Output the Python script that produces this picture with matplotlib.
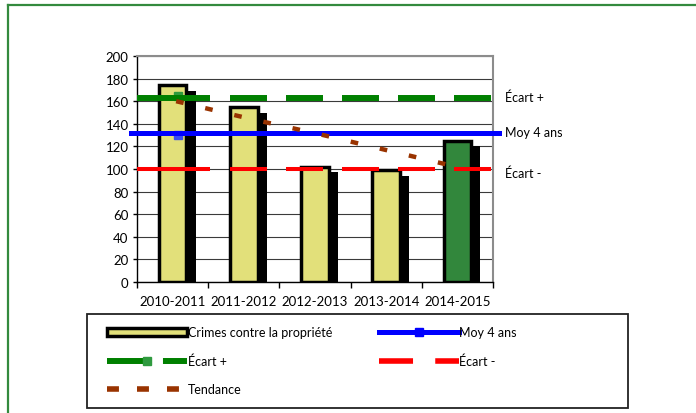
import matplotlib
matplotlib.use('Agg')
import matplotlib.pyplot as plt
from matplotlib.lines import Line2D
from matplotlib.patches import Patch, Rectangle
import numpy as np

plt.rcParams['font.family'] = ['Lato', 'DejaVu Sans']
plt.rcParams['lines.scale_dashes'] = False

# valeurs
saisons = ['2010-2011', '2011-2012', '2012-2013', '2013-2014', '2014-2015']
crimes = [174, 155, 102, 99, 125]
moy_4ans = 132
ecart_plus = 163
ecart_moins = 100
tendance = [160, 145, 131, 116, 101]

# couleurs
jaune = '#E2E07A'
vert_barre = '#32873C'
vert = '#008000'
bleu = '#0000FF'
rouge = '#FF0000'
brun = '#993300'

fig = plt.figure(figsize=(6.96, 4.14), dpi=100)
ax = fig.add_axes([137/696, 1-283/414, 356/696, 226/414])
x = np.arange(len(saisons))

# ombre des barres puis barres
couleurs = [jaune]*4 + [vert_barre]
ax.bar(x + 0.127, np.array(crimes) - 5, width=0.39, color='black', zorder=2)
ax.bar(x, crimes, width=0.39, color=couleurs, edgecolor='black', linewidth=2.5, zorder=3)

# tirets en px -> pt
seq = [v*0.72 for v in [73, 20, 37, 19, 37, 19, 37, 19, 37, 19, 37, 30]]
ax.plot([-0.5, 4.5], [ecart_plus]*2, color=vert, lw=4.3, dashes=seq, zorder=5)
ax.plot([x[0]+0.07], [ecart_plus+1.5], 's', color='#2f9a3f', ms=6, zorder=4)
ax.plot([-0.5, 4.5], [ecart_moins]*2, color=rouge, lw=2.9, dashes=seq, zorder=5)
ax.plot([-0.585, 4.585], [moy_4ans]*2, color=bleu, lw=3.6, zorder=6, clip_on=False)
ax.plot([x[0]+0.07], [moy_4ans-1.5], 's', color='#3a4ef0', ms=6, zorder=5)
ax.plot(x + 0.05, tendance, color=brun, lw=3.2, dashes=(5.5, 16), zorder=7)

# axes
ax.set_xlim(-0.5, 4.5)
ax.set_ylim(0, 200)
ax.set_yticks(range(0, 201, 20))
ax.yaxis.grid(True, color='#3a3a3a', lw=0.8)
ax.set_axisbelow(True)
ax.set_xticks(np.arange(-0.5, 5, 1))
ax.set_xticklabels([])
ax.set_xticks(x, minor=True)
ax.set_xticklabels(saisons, minor=True, fontsize=9.5)
ax.tick_params(axis='x', which='minor', length=0, pad=9)
ax.tick_params(axis='x', which='major', length=4, direction='out', width=1)
ax.tick_params(axis='y', length=3, pad=3, labelsize=9.5, width=1)
for s in ['top', 'right']:
    ax.spines[s].set_color('#8c8c8c')
    ax.spines[s].set_linewidth(1.5)
for s in ['left', 'bottom']:
    ax.spines[s].set_color('black')
    ax.spines[s].set_linewidth(1)

# libellés à droite
ax.text(4.67, ecart_plus + 1, 'Écart +', va='center', fontsize=9)
ax.text(4.67, moy_4ans + 1, 'Moy 4 ans', va='center', fontsize=9)
ax.text(4.67, ecart_moins - 3, 'Écart -', va='center', fontsize=9)

# légende
h_crimes = Patch(facecolor=jaune, edgecolor='black', linewidth=2.5)
h_moy = Line2D([], [], color=bleu, lw=3.6, marker='s', ms=6)
h_plus = Line2D([], [], color=vert, lw=4.3, dashes=(26.6, 13.7), marker='s', ms=6,
                markerfacecolor='#2f9a3f', markeredgecolor='#2f9a3f')
h_moins = Line2D([], [], color=rouge, lw=4, dashes=(24.5, 16))
h_tend = Line2D([], [], color=brun, lw=4, dashes=(8.6, 13))
handles = [h_crimes, h_plus, h_tend, h_moy, h_moins]
labels = ['Crimes contre la propriété', 'Écart +', 'Tendance', 'Moy 4 ans', 'Écart -']
fig.legend(handles, labels, loc='upper left', bbox_to_anchor=(101/696, 1-321/414),
           ncol=2, frameon=False, borderpad=0, fontsize=9, handlelength=6.4,
           handletextpad=0.05, columnspacing=3.7, labelspacing=1.3, handleheight=0.7)
fig.add_artist(Rectangle((87/696, 1-409/414), 541/696, 94/414, transform=fig.transFigure,
                         fill=False, edgecolor='#222222', lw=1.3))

# cadre vert
fig.add_artist(Line2D([8/696, 8/696], [0, 1-6/414], transform=fig.transFigure, color='#338a3e', lw=1.6))
fig.add_artist(Line2D([8/696, 1], [1-6/414, 1-6/414], transform=fig.transFigure, color='#338a3e', lw=1.6))

fig.savefig('out.png', dpi=100)
